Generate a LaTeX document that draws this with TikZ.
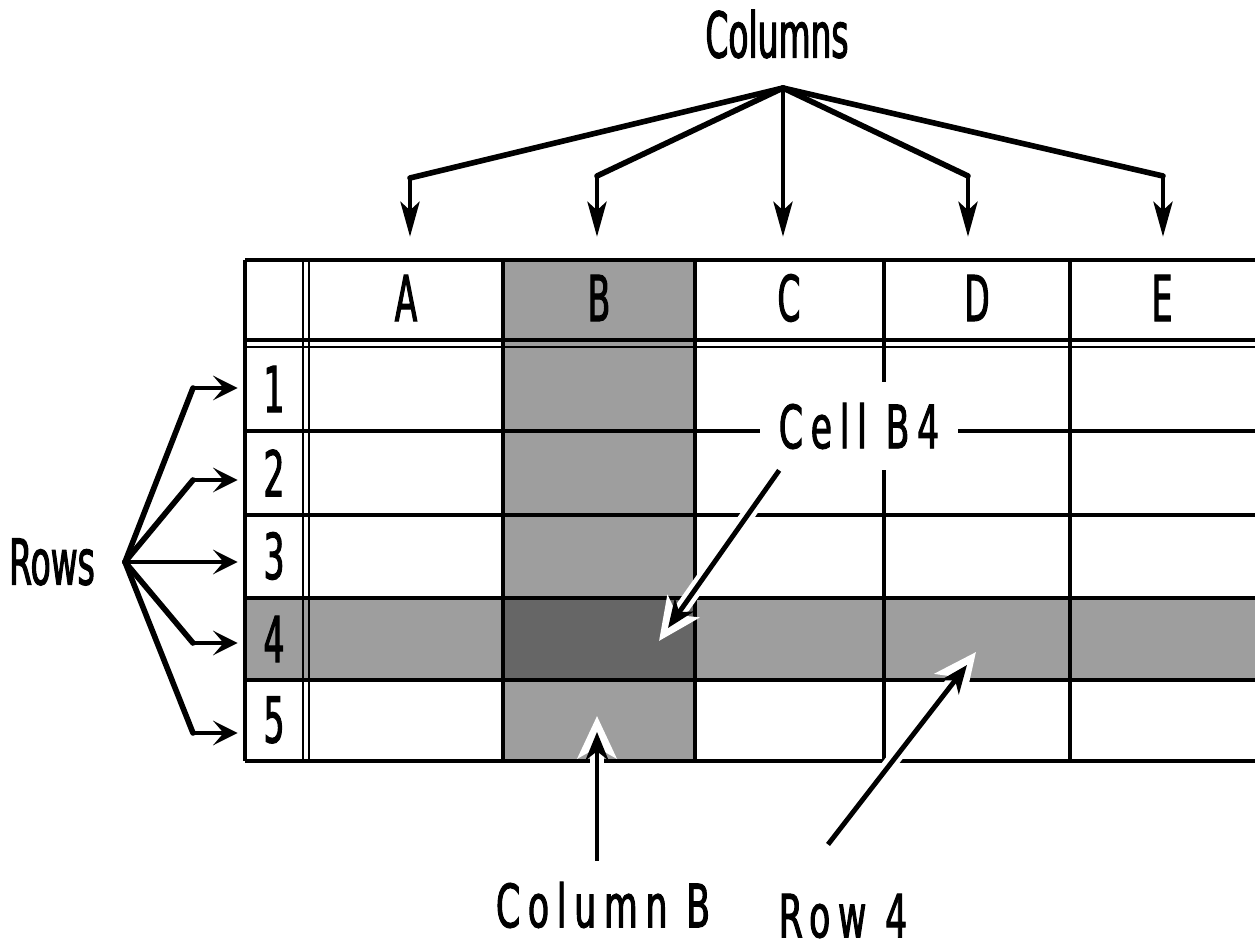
\documentclass[tikz,border=0pt]{standalone}
\usepackage{fontspec}
\usetikzlibrary{arrows.meta}
\newfontfamily\narrowfont[FakeStretch=0.52,FakeBold=1.6]{DejaVu Sans}
\newfontfamily\spacedfont[FakeStretch=0.58,FakeBold=1.6,LetterSpace=13]{DejaVu Sans}
\definecolor{cellgray}{gray}{0.62}
\definecolor{cellgraydark}{gray}{0.40}
\begin{document}
\begin{tikzpicture}[x=0.02cm,y=-0.02cm,
  lbl/.style={font=\narrowfont\fontsize{36}{40}\selectfont, inner sep=0pt},
  slbl/.style={font=\spacedfont\fontsize{34}{40}\selectfont, inner sep=0pt},
  hcell/.style={lbl, minimum width=3.88cm, minimum height=1.6cm},
  rcell/.style={lbl, minimum width=1.16cm, minimum height=1.66cm},
  outer/.style={line width=2.8pt},
  gridline/.style={line width=2.2pt},
  dbl/.style={line width=1.4pt},
  diag/.style={line width=3.2pt, line cap=round, line join=round},
  stem/.style={line width=1.8pt},
  colhead/.style={-{Stealth[length=20pt,width=11pt,inset=5pt]}},
  rowhead/.style={-{Stealth[length=14pt,width=14pt,inset=6pt]}},
  ptr/.style={line width=2.8pt, -{Stealth[length=16pt,width=13pt,inset=5pt]}},
  halo/.style={white, line width=8pt, -{Stealth[length=24pt,width=22pt,inset=6pt]}}
]
\useasboundingbox (0,0) rectangle (1255,952);
\fill[white] (0,0) rectangle (1255,952);

% shading
\fill[cellgray] (503,260) rectangle (695,761);
\fill[cellgray] (245,598) rectangle (1255,680);
\fill[cellgraydark] (503,598) rectangle (695,680);

% grid: horizontal
\draw[outer] (245,260) -- (1255,260);
\draw[gridline] (245,340) -- (1255,340);
\draw[dbl] (245,347) -- (1255,347);
\foreach \yy in {431,515,598,680} \draw[gridline] (245,\yy) -- (1255,\yy);
\draw[outer] (245,761) -- (1255,761);
% grid: vertical
\draw[outer] (245,260) -- (245,761);
\draw[dbl] (303,260) -- (303,761);
\draw[dbl] (309,260) -- (309,761);
\foreach \xx in {503,695,884,1070} \draw[gridline] (\xx,260) -- (\xx,761);

% header cells
\node[hcell] (hA) at (406,298) {A};
\node[hcell] (hB) at (599,298) {B};
\node[hcell] (hC) at (789,298) {C};
\node[hcell] (hD) at (977,298) {D};
\node[hcell] (hE) at (1162,298) {E};
% row cells
\node[rcell] (r1) at (274,389) {1};
\node[rcell] (r2) at (274,473) {2};
\node[rcell] (r3) at (274,556) {3};
\node[rcell] (r4) at (274,639) {4};
\node[rcell] (r5) at (274,720) {5};

% Columns
\node[lbl] (cols) at (777,34) {Columns};
\coordinate (capex) at (783,88);
\coordinate (eA) at (410,178);
\coordinate (eB) at (597,176);
\coordinate (eD) at (968,176);
\coordinate (eE) at (1163,176);
\foreach \c in {A,B,D,E} {
  \draw[diag] (capex) -- (e\c);
  \draw[stem,colhead,shorten >=0.42cm] (e\c) -- (e\c |- h\c.north);
}
\draw[stem,colhead,shorten >=0.42cm] (capex) -- (capex |- hC.north);

% Rows
\node[lbl] (rows) at (52,562) {Rows};
\coordinate (rapex) at (125,562);
\coordinate (e1) at (193,388);
\coordinate (e2) at (193,480);
\coordinate (e4) at (193,643);
\coordinate (e5) at (193,733);
\foreach \r in {1,2,4,5} {
  \draw[diag] (rapex) -- (e\r);
  \draw[stem,rowhead,shorten >=0.14cm] (e\r) -- (e\r -| r\r.west);
}
\draw[stem,rowhead,shorten >=0.14cm] (rapex) -- (rapex -| r3.west);

% Cell B4
\node[slbl, fill=white, minimum width=3.98cm, minimum height=1.76cm] (cell) at (859,426) {Cell B4};
\coordinate (tB4) at (668,628);
\coordinate (hB4) at (659,641);
\draw[halo] ([xshift=0.4cm]cell.south west) -- (hB4);
\draw[ptr] ([xshift=0.4cm]cell.south west) -- (tB4);

% Column B
\node[slbl] (colB) at (603,905) {Column B};
\coordinate (tColB) at (597,732);
\coordinate (hColB) at (597,716);
\draw[halo, shorten <=0.42cm] (hColB |- colB.north) -- (hColB);
\draw[ptr, line width=2.2pt, shorten <=0.42cm] (tColB |- colB.north) -- (tColB);

% Row 4
\node[slbl] (row4) at (843,916) {Row 4};
\coordinate (tR4) at (967,665);
\coordinate (hR4) at (976,652);
\draw[halo] ([xshift=-0.3cm,yshift=0.98cm]row4.north) -- (hR4);
\draw[ptr] ([xshift=-0.3cm,yshift=0.98cm]row4.north) -- (tR4);
\end{tikzpicture}
\end{document}
